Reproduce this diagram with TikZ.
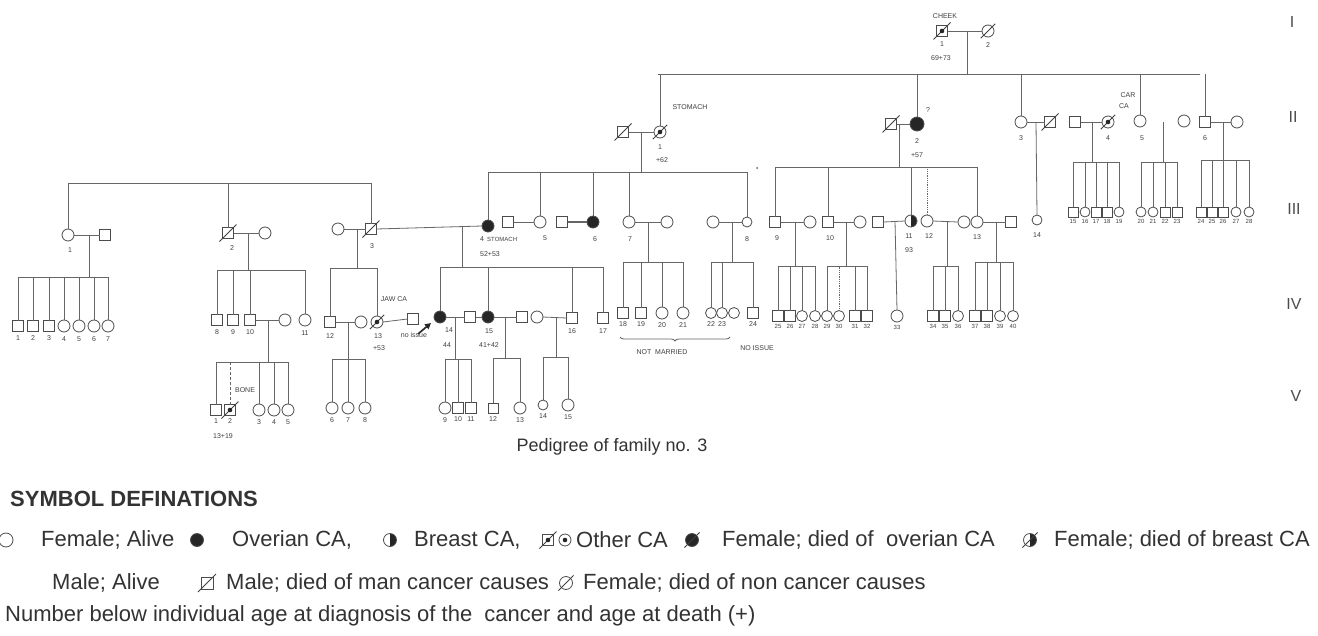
\documentclass[tikz,border=0pt]{standalone}
\usepackage{fontspec}
\setmainfont{Liberation Sans}
\usetikzlibrary{calc,positioning,decorations.pathreplacing,arrows.meta}
\newcommand\Ma[4][]{\node[male,#1] (#2) at (#3,#4) {};}
\newcommand\Fe[4][]{\node[female,#1] (#2) at (#3,#4) {};}
\newcounter{lbc}
\newcommand\lab[4][]{\stepcounter{lbc}\node[lbl,#1] (lb\arabic{lbc}) at (#2,#3) {#4};}
\newcommand\dead[1]{\draw[sl] ([shift={(-3pt,-3pt)}]#1.south west) -- ([shift={(3pt,3pt)}]#1.north east);}
\newcommand\dotc[1]{\fill[black!85] (#1.center) circle (2.3pt);}
\newcommand\drop[2]{\draw[ln] (#1.north) -- (#1.north |- #2);}
\begin{document}
\begin{tikzpicture}[x=1pt,y=-1pt,
 ln/.style={draw=black!60,line width=0.8pt},
 sl/.style={draw=black!75,line width=0.8pt},
 sym/.style={draw=black!70,line width=0.8pt,inner sep=0pt,outer sep=0pt,fill=white},
 male/.style={sym,rectangle,minimum size=11pt},
 female/.style={sym,circle,minimum size=12pt},
 sm/.style={minimum size=10pt},
 aff/.style={fill=black!85},
 half/.style={path picture={\fill[black!85] (path picture bounding box.north) rectangle (path picture bounding box.south east);}},
 lbl/.style={font=\fontsize{7}{8}\selectfont,text=black!75,inner sep=0pt},
 leg/.style={font=\fontsize{22}{26}\selectfont,text=black!80,inner sep=0pt,anchor=west},
 gen/.style={font=\fontsize{16}{18}\selectfont,text=black!70,inner sep=0pt}]
\useasboundingbox (0,0) rectangle (1318,635);
\fill[white] (0,0) rectangle (1318,635);

% ---------- Generation I
\Ma{I1}{942}{31} \Fe{I2}{988}{31}
\draw[ln] (I1.east) -- (I2.west);
\coordinate (dI) at (967,31);
\coordinate (g2) at (658,74); \coordinate (g2e) at (1200,74);
\draw[ln] (g2) -- (g2e);
\draw[ln] (dI) -- (dI |- g2);
\dead{I1}\dotc{I1}\dead{I2}
\lab{945}{16}{CHEEK} \lab{942}{44}{1} \lab{941}{58}{69+73} \lab{988}{45}{2}

% ---------- Generation II
\Ma{IIa}{623}{132} \Fe{II1}{660}{132}
\Ma{IIb}{891}{124} \Fe[aff,minimum size=14pt]{II2}{917}{124}
\Fe{II3}{1021}{122} \Ma{IIc}{1050}{122}
\Ma{IId}{1075}{122} \Fe{II4}{1108}{122}
\Fe{II5}{1140}{121} \Fe{IIe}{1184}{121}
\Ma{II6}{1205}{122} \Fe{IIf}{1237}{122}
\foreach \n in {II1,II2,II3,II5,II6} \drop{\n}{g2};
\draw[ln] (IIa.east) -- (II1.west);
\draw[ln] (IIb.east) -- (II2.west);
\draw[ln] (II3.east) -- (IIc.west);
\draw[ln] (IId.east) -- (II4.west);
\draw[ln] (II6.east) -- (IIf.west);
\dead{IIa}\dead{II1}\dotc{II1}\dead{IIb}\dead{IIc}\dead{II4}\dotc{II4}
\lab{690}{107}{STOMACH} \lab{660}{147}{1} \lab{662}{160}{+62}
\lab{928}{110}{?} \lab{917}{141}{2} \lab{917}{155}{+57}
\lab{1021}{138}{3} \lab{1128}{95}{CAR} \lab{1124}{106}{CA} \lab{1108}{138}{4}
\lab{1142}{138}{5} \lab{1205}{138}{6}
\fill[black!60] (757,168) circle (1pt);

% sibship bars of generation III
\coordinate (b0) at (68,183); \coordinate (b0e) at (372,183); \draw[ln] (b0) -- (b0e);
\coordinate (b1) at (488,172); \coordinate (b1e) at (747,172); \draw[ln] (b1) -- (b1e);
\coordinate (d1) at (641,132); \draw[ln] (d1) -- (d1 |- b1);
\coordinate (b2) at (775,167); \coordinate (b2e) at (978,167); \draw[ln] (b2) -- (b2e);
\coordinate (d2) at (899,124); \draw[ln] (d2) -- (d2 |- b2);
\coordinate (d3) at (1036,122);
\coordinate (b4) at (1073,162); \coordinate (b4e) at (1119,162); \draw[ln] (b4) -- (b4e);
\coordinate (d4) at (1092,122); \draw[ln] (d4) -- (d4 |- b4);
\coordinate (b5) at (1141,162); \coordinate (b5e) at (1177,162); \draw[ln] (b5) -- (b5e);
\coordinate (d5) at (1163,122); \draw[ln] (d5) -- (d5 |- b5);
\coordinate (b6) at (1201,160); \coordinate (b6e) at (1249,160); \draw[ln] (b6) -- (b6e);
\coordinate (d6) at (1223,122); \draw[ln] (d6) -- (d6 |- b6);

% ---------- Generation III left
\Fe{III1}{68}{235} \Ma{IIIa}{105}{235}
\Ma{III2}{228}{233} \Fe{IIIb}{265}{233}
\Fe{IIIc}{338}{229} \Ma{III3}{371}{229}
\foreach \n in {III1,III2,III3} \drop{\n}{b0};
\draw[ln] (III1.east) -- (IIIa.west);
\draw[ln] (III2.east) -- (IIIb.west);
\draw[ln] (IIIc.east) -- (III3.west);
\dead{III2}\dead{III3}
\lab{70}{250}{1} \lab{232}{248}{2} \lab{372}{246}{3}

% ---------- Generation III middle
\Fe[aff]{III4}{488}{226} \Ma{IIId}{508}{222} \Fe{III5}{540}{222}
\Ma{IIIe}{562}{222} \Fe[aff]{III6}{593}{222}
\Fe{III7}{629}{222} \Fe{IIIf}{667}{222}
\Fe{IIIg}{713}{222} \Fe[sm]{III8}{747}{222}
\foreach \n in {III4,III5,III6,III7,III8} \drop{\n}{b1};
\draw[ln] (III3.east) -- (III4.west);
\draw[ln] (IIId.east) -- (III5.west);
\draw[ln,line width=1.6pt] (IIIe.east) -- (III6.west);
\draw[ln] (III7.east) -- (IIIf.west);
\draw[ln] (IIIg.east) -- (III8.west);
\lab{482}{239}{4} \lab[anchor=west,font=\fontsize{6}{7}\selectfont]{487}{239}{STOMACH}
\lab{490}{254}{52+53} \lab{545}{238}{5} \lab{595}{239}{6} \lab{630}{239}{7} \lab{747}{239}{8}

% ---------- Generation III right
\Ma{III9}{775}{222} \Fe{IIIh}{810}{222}
\Ma{III10}{828}{222} \Fe{IIIi}{860}{222}
\Ma{IIIj}{878}{222} \Fe[half]{III11}{911}{221}
\Fe{III12}{927}{221} \Fe{IIIk}{964}{222}
\Fe{III13}{977}{222} \Ma{IIIl}{1011}{222}
\Fe[sm]{III14}{1037}{220}
\foreach \n in {III9,III10,III11,III13} \drop{\n}{b2};
\draw[ln,densely dotted] (III12.north) -- (III12.north |- b2);
\draw[ln] (d3) -- (III14.north);
\draw[ln] (III9.east) -- (IIIh.west);
\draw[ln] (III10.east) -- (IIIi.west);
\draw[ln] (IIIj.east) -- (III11.west);
\draw[ln] (III12.east) -- (IIIk.west);
\draw[ln] (III13.east) -- (IIIl.west);
\lab{777}{238}{9} \lab{830}{238}{10} \lab{909}{236}{11} \lab{909}{250}{93}
\lab{929}{236}{12} \lab{977}{237}{13} \lab{1037}{235}{14}

% ---------- Generation III far right
\Ma[sm]{c15}{1073}{212} \Fe[sm]{c16}{1085}{212} \Ma[sm]{c17}{1096}{212} \Ma[sm]{c18}{1107}{212} \Fe[sm]{c19}{1119}{212}
\Fe[sm]{c20}{1141}{212} \Fe[sm]{c21}{1153}{212} \Ma[sm]{c22}{1165}{212} \Ma[sm]{c23}{1177}{212}
\Ma[sm]{c24}{1201}{212} \Ma[sm]{c25}{1212}{212} \Ma[sm]{c26}{1223}{212} \Fe[sm]{c27}{1236}{212} \Fe[sm]{c28}{1249}{212}
\foreach \n in {c15,c16,c17,c18,c19} \drop{\n}{b4};
\foreach \n in {c20,c21,c22,c23} \drop{\n}{b5};
\foreach \n in {c24,c25,c26,c27,c28} \drop{\n}{b6};
\foreach \n/\t in {c15/15,c16/16,c17/17,c18/18,c19/19,c20/20,c21/21,c22/22,c23/23,c24/24,c25/25,c26/26,c27/27,c28/28}
  {\node[lbl,font=\fontsize{6}{7}\selectfont,below=2pt of \n] (t\n) {\t};}

% ---------- Generation IV left
\coordinate (dk1) at (89,235); \coordinate (bk1) at (18,277); \coordinate (bk1e) at (108,277);
\draw[ln] (bk1) -- (bk1e); \draw[ln] (dk1) -- (dk1 |- bk1);
\Ma{k1}{18}{326} \Ma{k2}{33}{326} \Ma{k3}{49}{326} \Fe{k4}{64}{326} \Fe{k5}{79}{326} \Fe{k6}{94}{326} \Fe{k7}{108}{326}
\foreach \n in {k1,k2,k3,k4,k5,k6,k7} \drop{\n}{bk1};
\foreach \n/\t in {k1/1,k2/2,k3/3,k4/4,k5/5,k6/6,k7/7} {\node[lbl,below=4pt of \n] (t\n) {\t};}

\coordinate (dk2) at (248,233); \coordinate (bk2) at (217,270); \coordinate (bk2e) at (305,270);
\draw[ln] (bk2) -- (bk2e); \draw[ln] (dk2) -- (dk2 |- bk2);
\Ma{k8}{217}{320} \Ma{k9}{233}{320} \Ma{k10}{250}{320} \Fe{kb}{285}{320} \Fe{k11}{305}{320}
\foreach \n in {k8,k9,k10,k11} \drop{\n}{bk2};
\draw[ln] (k10.east) -- (kb.west);
\foreach \n/\t in {k8/8,k9/9,k10/10,k11/11} {\node[lbl,below=4pt of \n] (t\n) {\t};}

\coordinate (dk3) at (357,229); \coordinate (bk3) at (330,268); \coordinate (bk3e) at (377,268);
\draw[ln] (bk3) -- (bk3e); \draw[ln] (dk3) -- (dk3 |- bk3);
\Ma{k12}{330}{322} \Fe{kc}{361}{322} \Fe{k13}{377}{322} \Ma{kd}{413}{319}
\foreach \n in {k12,k13} \drop{\n}{bk3};
\draw[ln] (k12.east) -- (kc.west);
\draw[ln] (k13.east) -- (kd.west);
\dead{k13}\dotc{k13}
\lab{330}{336}{12} \lab{378}{336}{13} \lab{379}{348}{+53} \lab{394}{299}{JAW CA}
\lab{414}{335}{no issue}

\coordinate (dk4) at (462,227); \coordinate (bk4) at (440,267); \coordinate (bk4e) at (603,267);
\draw[ln] (bk4) -- (bk4e); \draw[ln] (dk4) -- (dk4 |- bk4);
\Fe[aff]{k14}{440}{317} \Ma{ke}{470}{317} \Fe[aff]{k15}{488}{317} \Ma{kf}{522}{317} \Fe{kg}{537}{317}
\Ma{k16}{572}{318} \Ma{k17}{603}{318}
\foreach \n in {k14,k15,k16,k17} \drop{\n}{bk4};
\draw[ln] (k14.east) -- (ke.west);
\draw[ln] (ke.east) -- (k15.west);
\draw[ln] (k15.east) -- (kf.west);
\draw[ln] (kg.east) -- (k16.west);
\coordinate (pa) at (418,334); \coordinate (pb) at (431,323);
\draw[black!85,line width=1.6pt,-{Triangle[length=6pt,width=6pt]}] (pa) -- (pb);
\lab{449}{330}{14} \lab{447}{345}{44} \lab{489}{331}{15} \lab{489}{345}{41+42}
\lab{572}{331}{16} \lab{603}{331}{17}

% ---------- Generation IV middle / right
\coordinate (dk7) at (648,222); \coordinate (bk7) at (623,262); \coordinate (bk7e) at (683,262);
\draw[ln] (bk7) -- (bk7e); \draw[ln] (dk7) -- (dk7 |- bk7);
\Ma{k18}{623}{313} \Ma{k19}{641}{313} \Fe{k20}{662}{313} \Fe{k21}{683}{313}
\foreach \n in {k18,k19,k20,k21} \drop{\n}{bk7};
\foreach \n/\t in {k18/18,k19/19,k20/20,k21/21} {\node[lbl,below=3pt of \n] (t\n) {\t};}

\coordinate (dk8) at (732,222); \coordinate (bk8) at (711,262); \coordinate (bk8e) at (753,262);
\draw[ln] (bk8) -- (bk8e); \draw[ln] (dk8) -- (dk8 |- bk8);
\Fe[minimum size=11pt]{k22}{711}{313} \Fe[minimum size=11pt]{k23}{722}{313} \Fe[minimum size=11pt]{kh}{734}{313} \Ma{k24}{753}{313}
\foreach \n in {k22,k23,k24} \drop{\n}{bk8};
\foreach \n/\t in {k22/22,k23/23,k24/24} {\node[lbl,below=3pt of \n] (t\n) {\t};}
\coordinate (brA) at (620,337); \coordinate (brB) at (730,337);
\draw[ln,decorate,decoration={brace,amplitude=4pt,mirror}] (brA) -- (brB);
\lab{662}{352}{NOT\ \ MARRIED} \lab{757}{348}{NO ISSUE}

\coordinate (dk9) at (795,222); \coordinate (bk9) at (778,266); \coordinate (bk9e) at (815,266);
\draw[ln] (bk9) -- (bk9e); \draw[ln] (dk9) -- (dk9 |- bk9);
\Ma{k25}{778}{316} \Ma{k26}{790}{316} \Fe[minimum size=11pt]{k27}{802}{316} \Fe[minimum size=11pt]{k28}{815}{316}
\foreach \n in {k25,k26,k27,k28} \drop{\n}{bk9};

\coordinate (dk10) at (846,222); \coordinate (bk10) at (827,266); \coordinate (bk10e) at (867,266);
\draw[ln] (bk10) -- (bk10e); \draw[ln] (dk10) -- (dk10 |- bk10);
\Fe[minimum size=11pt]{k29}{827}{316} \Fe[minimum size=11pt]{k30}{839}{316} \Ma{k31}{855}{316} \Ma{k32}{867}{316}
\foreach \n in {k29,k31,k32} \drop{\n}{bk10};
\draw[ln,densely dotted] (k30.north) -- (k30.north |- bk10);

\Fe{k33}{897}{316}
\coordinate (dk11) at (895,221); \draw[ln] (dk11) -- (k33.north);

\coordinate (dk12) at (947,221); \coordinate (bk12) at (933,266); \coordinate (bk12e) at (958,266);
\draw[ln] (bk12) -- (bk12e); \draw[ln] (dk12) -- (dk12 |- bk12);
\Ma{k34}{933}{316} \Ma{k35}{945}{316} \Fe[minimum size=11pt]{k36}{958}{316}
\foreach \n in {k34,k35,k36} \drop{\n}{bk12};

\coordinate (dk13) at (996,222); \coordinate (bk13) at (975,262); \coordinate (bk13e) at (1013,262);
\draw[ln] (bk13) -- (bk13e); \draw[ln] (dk13) -- (dk13 |- bk13);
\Ma{k37}{975}{316} \Ma{k38}{987}{316} \Fe[minimum size=11pt]{k39}{1000}{316} \Fe[minimum size=11pt]{k40}{1013}{316}
\foreach \n in {k37,k38,k39,k40} \drop{\n}{bk13};
\foreach \n/\t in {k25/25,k26/26,k27/27,k28/28,k29/29,k30/30,k31/31,k32/32,k33/33,k34/34,k35/35,k36/36,k37/37,k38/38,k39/39,k40/40}
  {\node[lbl,font=\fontsize{6}{7}\selectfont,below=3pt of \n] (t\n) {\t};}

% ---------- Generation V
\coordinate (dv1) at (268,320); \coordinate (bv1) at (217,362); \coordinate (bv1e) at (288,362);
\draw[ln] (bv1) -- (bv1e); \draw[ln] (dv1) -- (dv1 |- bv1);
\Ma{v1}{216}{410} \Ma{v2}{230}{410} \Fe{v3}{259}{410} \Fe{v4}{274}{410} \Fe{v5}{288}{410}
\foreach \n in {v1,v3,v4,v5} \drop{\n}{bv1};
\draw[ln,densely dashed] (v2.north) -- (v2.north |- bv1);
\dead{v2}\dotc{v2}
\lab{245}{390}{BONE} \lab{223}{436}{13+19}
\foreach \n/\t in {v1/1,v2/2,v3/3,v4/4,v5/5} {\node[lbl,below=3pt of \n] (t\n) {\t};}

\coordinate (dv2) at (348,322); \coordinate (bv2) at (332,359); \coordinate (bv2e) at (365,359);
\draw[ln] (bv2) -- (bv2e); \draw[ln] (dv2) -- (dv2 |- bv2);
\Fe{v6}{332}{408} \Fe{v7}{348}{408} \Fe{v8}{365}{408}
\foreach \n in {v6,v7,v8} \drop{\n}{bv2};

\coordinate (dv3) at (455,317); \coordinate (bv3) at (445,359); \coordinate (bv3e) at (471,359);
\draw[ln] (bv3) -- (bv3e); \draw[ln] (dv3) -- (dv3 |- bv3);
\Fe{v9}{445}{408} \Ma{v10}{458}{408} \Ma{v11}{471}{408}
\foreach \n in {v9,v10,v11} \drop{\n}{bv3};

\coordinate (dv4) at (505,317); \coordinate (bv4) at (493,358); \coordinate (bv4e) at (520,358);
\draw[ln] (bv4) -- (bv4e); \draw[ln] (dv4) -- (dv4 |- bv4);
\Ma[sm]{v12}{493}{408} \Fe{v13}{520}{408}
\foreach \n in {v12,v13} \drop{\n}{bv4};

\coordinate (dv5) at (556,318); \coordinate (bv5) at (543,357); \coordinate (bv5e) at (568,357);
\draw[ln] (bv5) -- (bv5e); \draw[ln] (dv5) -- (dv5 |- bv5);
\Fe[sm]{v14}{543}{405} \Fe{v15}{568}{405}
\foreach \n in {v14,v15} \drop{\n}{bv5};
\foreach \n/\t in {v6/6,v7/7,v8/8,v9/9,v10/10,v11/11,v12/12,v13/13,v14/14,v15/15} {\node[lbl,below=3pt of \n] (t\n) {\t};}

% ---------- title and generation numerals
\node[font=\fontsize{18}{20}\selectfont,text=black!80,inner sep=0pt] (title) at (612,447) {Pedigree of family no. 3};
\node[gen] (rI) at (1292,22) {I};
\node[gen] (rII) at (1293,117) {II};
\node[gen] (rIII) at (1294,209) {III};
\node[gen] (rIV) at (1294,304) {IV};
\node[gen] (rV) at (1296,396) {V};

% ---------- legend
\node[leg,font=\fontsize{22}{26}\selectfont\bfseries] (LT) at (10,499) {SYMBOL DEFINATIONS};
\Fe[minimum size=14pt]{LgA}{6}{540}
\node[leg] (L1a) at (41,540) {Female; Alive};
\Fe[aff,minimum size=13pt]{LgB}{197}{540}
\node[leg] (L1b) at (232,540) {Overian CA,};
\Fe[half,minimum size=13pt]{LgC}{390}{540}
\node[leg] (L1c) at (414,540) {Breast CA,};
\Ma{LgD}{548}{540} \dead{LgD}\dotc{LgD}
\Fe{LgE}{565}{540} \dotc{LgE}
\node[leg] (L1d) at (576,540) {Other CA};
\Fe[aff,minimum size=13pt]{LgF}{692}{540} \dead{LgF}
\node[leg] (L1e) at (722,540) {Female; died of \ overian CA};
\Fe[half,minimum size=13pt]{LgG}{1030}{540} \dead{LgG}
\node[leg] (L1f) at (1054,540) {Female; died of breast CA};
\node[leg] (L2a) at (52,583) {Male; Alive};
\Ma[minimum size=12pt]{LgH}{207}{583} \dead{LgH}
\node[leg] (L2b) at (226,583) {Male; died of man cancer causes};
\Fe[minimum size=13pt]{LgI}{566}{583} \dead{LgI}
\node[leg] (L2c) at (583,583) {Female; died of non cancer causes};
\node[leg] (L3) at (5,616) {Number below individual age at diagnosis of the \ cancer and age at death (+)};
\end{tikzpicture}
\end{document}
